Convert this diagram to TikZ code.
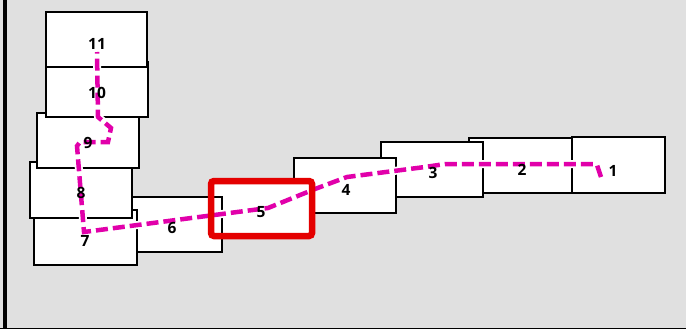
\documentclass[tikz,border=0pt]{standalone}
\usepackage{fontspec}
\setmainfont{Open Sans}
\begin{document}
\begin{tikzpicture}[x=1pt,y=-1pt,
  bx/.style={draw=black,fill=white,line width=2pt},
  lbl/.style={font=\fontsize{15.5}{15.5}\selectfont\bfseries,text=black,inner sep=0pt},
  casing/.style={draw=white,line width=8pt},
  track/.style={draw=trackc,line width=4.5pt,dash pattern=on 12pt off 5pt},
  hl/.style={draw=hlred,line width=6.5pt,rounded corners=3pt}]
\definecolor{trackc}{RGB}{225,0,170}
\definecolor{hlred}{RGB}{228,0,0}
\definecolor{bgc}{RGB}{224,224,224}
\fill[bgc] (0,0) rectangle (686,329);
\useasboundingbox (0,0) rectangle (686,329);
\fill[black] (2.5,0) rectangle (7,329);
\fill[black] (0,327.5) rectangle (686,329);
% boxes
\draw[bx] (572,137) rectangle (665,193);
\draw[bx] (469,138) rectangle (572,193);
\draw[bx] (381,142) rectangle (483,197);
\draw[bx] (294,158) rectangle (396,213);
\fill[white] (211,181) rectangle (312,236);
\draw[bx] (122,197) rectangle (222,252);
\draw[bx] (34,210) rectangle (137,265);
\draw[bx] (30,162) rectangle (132,218);
\draw[bx] (37,113) rectangle (139,168);
\draw[bx] (46,62) rectangle (148,117);
\draw[bx] (46,12) rectangle (147,67);
% track end points
\coordinate (p1) at (601,177);
\coordinate (p11) at (97,52);
\path[casing] (p1) -- (597,165) -- (593,164) -- (445,164) -- (425,167) -- (347,177) -- (315,189) -- (268,208) -- (84,232) -- (77,146) -- (80,142) -- (108,142) -- (111,128) -- (98,117) -- (p11);
\path[track] (p1) -- (597,165) -- (593,164) -- (445,164) -- (425,167) -- (347,177) -- (315,189) -- (268,208) -- (84,232) -- (77,146) -- (80,142) -- (108,142) -- (111,128) -- (98,117) -- (p11);
% highlight
\draw[hl] (211,181) rectangle (312,236);
% labels
\node[lbl] (l1) at (613,171) {1};
\node[lbl] (l2) at (522,170) {2};
\node[lbl] (l3) at (433,173) {3};
\node[lbl] (l4) at (346,190) {4};
\node[lbl] (l5) at (261,212) {5};
\node[lbl] (l6) at (172,228) {6};
\node[lbl] (l7) at (85,241) {7};
\node[lbl] (l8) at (81,193) {8};
\node[lbl] (l9) at (88,143) {9};
\node[lbl] (l10) at (97,93) {10};
\node[lbl] (l11) at (97,44) {11};
\end{tikzpicture}
\end{document}
